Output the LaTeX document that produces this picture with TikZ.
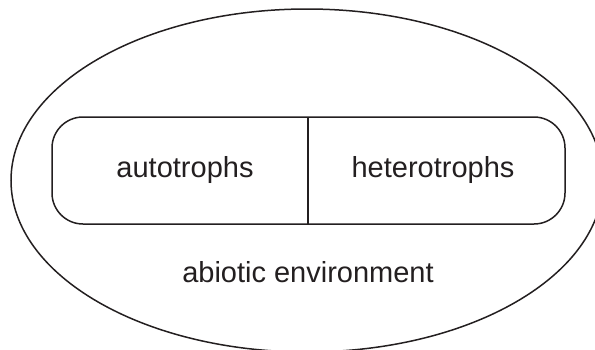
\documentclass[tikz,border=0pt]{standalone}
\usepackage{fontspec}
\setmainfont{Liberation Sans}
\definecolor{ink}{HTML}{231F20}
\begin{document}
\begin{tikzpicture}[x=1pt,y=-1pt,
    outline/.style={draw=ink,line width=1.5pt},
    label/.style={text=ink,font=\fontsize{29}{34}\selectfont,inner sep=0pt}]
  \useasboundingbox (0,0) rectangle (595,349);
  \clip (0,0) rectangle (595,349);
  % environment boundary
  \draw[outline] (307,180.5) ellipse [x radius=296, y radius=171.5];
  % community box with its two compartments
  \draw[outline,rounded corners=31pt] (52,117) rectangle (565,224);
  \coordinate (divtop) at (308,117);
  \coordinate (divbot) at (308,224);
  \draw[outline] (divtop) -- (divbot);
  \node[label] (auto) at (185,170) {autotrophs};
  \node[label] (hetero) at (433,170) {heterotrophs};
  \node[label] (abiotic) at (308,272) {abiotic environment};
\end{tikzpicture}
\end{document}
